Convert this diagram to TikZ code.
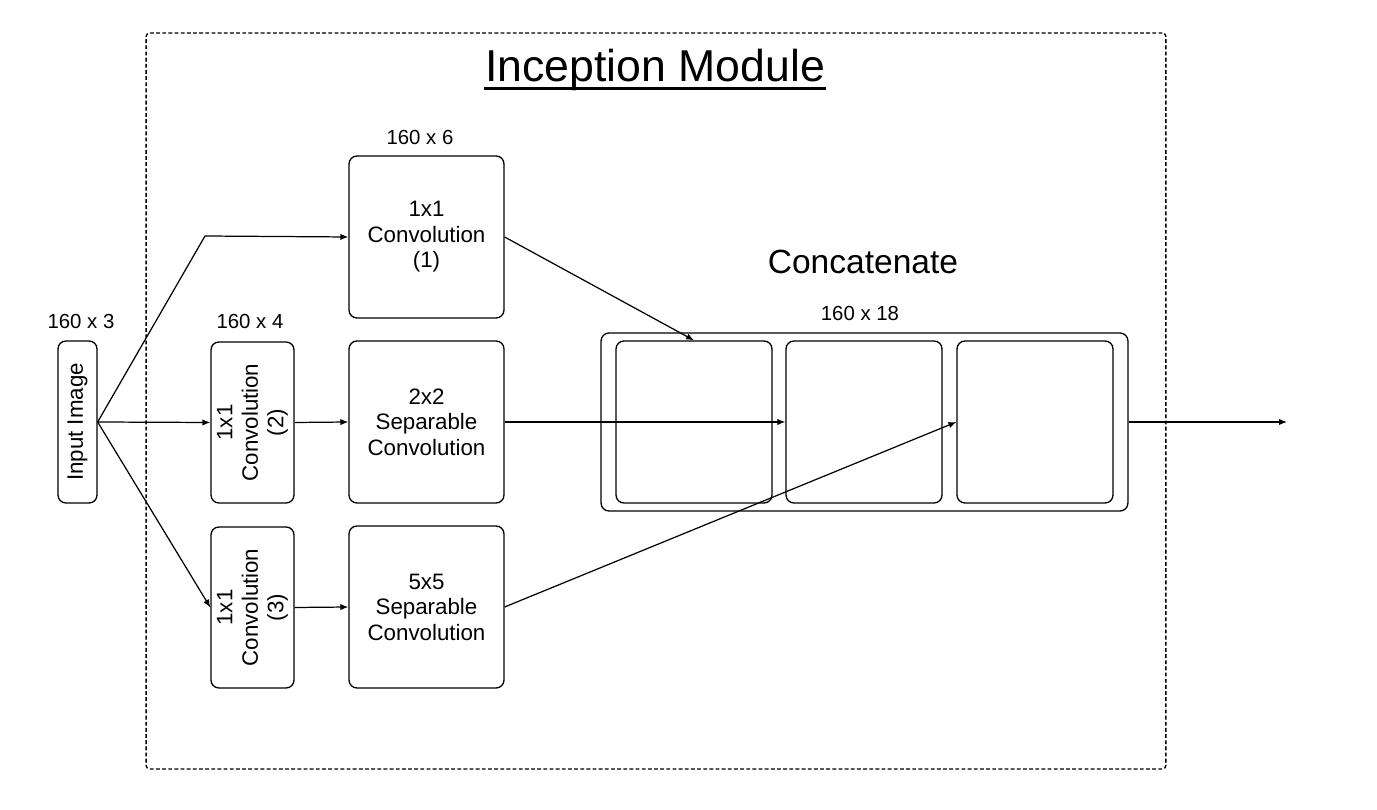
\documentclass[tikz,border=0pt]{standalone}
\usepackage{fontspec}
\setmainfont{Liberation Sans}
\usetikzlibrary{arrows.meta}

\begin{document}
\begin{tikzpicture}[
    x=0.02cm,
    y=-0.02cm,
    >={Latex[length=4.5pt,width=3.6pt]},
    line width=0.75pt,
    relation/.style={
        ->,
        line width=0.7pt
    },
    opbox/.style={
        draw,
        rectangle,
        rounded corners=4.5pt,
        align=center,
        inner sep=1pt,
        font=\fontsize{12.7}{14.5}\selectfont
    },
    rottext/.style={
        rotate=90,
        align=center,
        inner sep=0pt,
        font=\fontsize{12.7}{14.5}\selectfont
    },
    sizelabel/.style={
        font=\fontsize{11.6}{13}\selectfont
    },
    modframe/.style={
        draw,
        rounded corners=2pt,
        dash pattern=on 2.2pt off 1.3pt
    }
]

\useasboundingbox (0,0) rectangle (1377,810);

% ============================================================
% Module frame and titles
% ============================================================
\node[modframe, minimum width=20.4cm, minimum height=14.72cm] (mod) at (656,401) {};

\node[font=\fontsize{25.4}{28}\selectfont, inner sep=0pt, anchor=base] (mod-title)
    at (655,82) {Inception Module};
\draw[line width=1.4pt]
    ([yshift=-3.6pt]mod-title.base west) -- ([yshift=-3.6pt]mod-title.base east);

\node[font=\fontsize{19.1}{22}\selectfont] (cat-title) at (863,262) {Concatenate};

% ============================================================
% Input and 1x1 reductions
% ============================================================
\node[opbox, minimum width=0.78cm, minimum height=3.24cm] (in-img) at (77.5,422) {};
\node[rottext] (in-img-txt) at (in-img) {Input Image};
\node[sizelabel] (in-size) at (81,321) {160 x 3};

\node[opbox, minimum width=1.66cm, minimum height=3.22cm] (cv2) at (252.5,422.5) {};
\node[rottext] (cv2-txt) at (cv2) {1x1\\Convolution\\(2)};
\node[sizelabel] (cv2-size) at (250,321) {160 x 4};

\node[opbox, minimum width=1.66cm, minimum height=3.22cm] (cv3) at (252.5,607.5) {};
\node[rottext] (cv3-txt) at (cv3) {1x1\\Convolution\\(3)};

% ============================================================
% Main branches
% ============================================================
\node[opbox, minimum width=3.1cm, minimum height=3.24cm] (cv1) at (426.5,237)
    {1x1\\Convolution\\(1)};
\node[sizelabel] (cv1-size) at (420,137) {160 x 6};

\node[opbox, minimum width=3.1cm, minimum height=3.24cm] (sep2) at (426.5,422)
    {2x2\\Separable\\Convolution};

\node[opbox, minimum width=3.1cm, minimum height=3.24cm] (sep5) at (426.5,607)
    {5x5\\Separable\\Convolution};

% ============================================================
% Concatenation
% ============================================================
\node[opbox, minimum width=10.54cm, minimum height=3.56cm] (cat) at (864.5,422) {};
\node[sizelabel] (cat-size) at (860,313) {160 x 18};

\node[opbox, minimum width=3.12cm, minimum height=3.24cm] (cat-a) at (694,422) {};
\node[opbox, minimum width=3.12cm, minimum height=3.24cm] (cat-b) at (864,422) {};
\node[opbox, minimum width=3.12cm, minimum height=3.24cm] (cat-c) at (1035,422) {};

\coordinate (in-bend) at (205,236);
\coordinate (out-end) at (1287,422);

% Connections
\draw[relation] (in-img.east) -- (in-bend) -- (cv1.west);
\draw[relation] (in-img.east) -- (cv2.west);
\draw[relation] (in-img.east) -- (cv3.west);

\draw[relation] (cv2.east) -- (sep2.west);
\draw[relation] (cv3.east) -- (sep5.west);

\draw[relation] (cv1.east)  -- (cat-a.north);
\draw[relation] (sep2.east) -- (cat-b.west);
\draw[relation] (sep5.east) -- (cat-c.west);

\draw[relation] (cat.east) -- (out-end);

\end{tikzpicture}
\end{document}
